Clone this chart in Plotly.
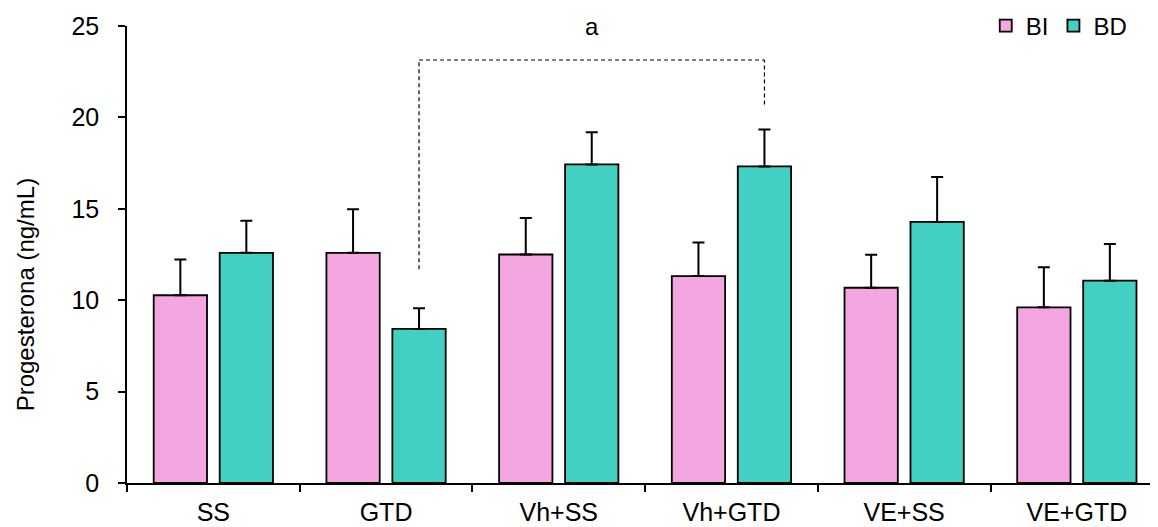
import plotly.graph_objects as go

categories = ["SS", "GTD", "Vh+SS", "Vh+GTD", "VE+SS", "VE+GTD"]
bi_mean = [10.27, 12.59, 12.50, 11.32, 10.68, 9.61]
bi_err_top = [12.23, 14.98, 14.50, 13.16, 12.48, 11.80]
bd_mean = [12.59, 8.43, 17.43, 17.32, 14.28, 11.07]
bd_err_top = [14.34, 9.56, 19.19, 19.34, 16.74, 13.07]
y_ticks = [0, 5, 10, 15, 20, 25]

# significance bracket: from GTD (BD) to Vh+GTD (BD)
bracket_from, bracket_to = 1, 3
bracket_y_top = 23.14
bracket_left_bottom = 11.69
bracket_right_bottom = 20.7
sig_label = "a"
y_title = "Progesterona (ng/mL)"

PINK = "#F4A6E0"
TEAL = "#42D0C2"
FONT = "Liberation Sans, Arial, sans-serif"
FS_TICK = 25
FS_TEXT = 24

bargap = 0.236
offset = (1 - bargap) / 4

fig = go.Figure()
fig.add_trace(go.Bar(
    name="BI", x=categories, y=bi_mean,
    marker=dict(color=PINK, line=dict(color="black", width=1.8)),
    error_y=dict(type="data", symmetric=False,
                 array=[e - m for e, m in zip(bi_err_top, bi_mean)],
                 arrayminus=[0] * len(bi_mean),
                 color="black", thickness=2, width=6),
))
fig.add_trace(go.Bar(
    name="BD", x=categories, y=bd_mean,
    marker=dict(color=TEAL, line=dict(color="black", width=1.8)),
    error_y=dict(type="data", symmetric=False,
                 array=[e - m for e, m in zip(bd_err_top, bd_mean)],
                 arrayminus=[0] * len(bd_mean),
                 color="black", thickness=2, width=6),
))

xl = bracket_from + offset
xr = bracket_to + offset
dash_line = dict(color="black", width=1.2, dash="4px,3px")
fig.add_shape(type="line", xref="x", yref="y", x0=xl, x1=xl, y0=bracket_left_bottom, y1=bracket_y_top, line=dash_line)
fig.add_shape(type="line", xref="x", yref="y", x0=xl, x1=xr, y0=bracket_y_top, y1=bracket_y_top, line=dash_line)
fig.add_shape(type="line", xref="x", yref="y", x0=xr, x1=xr, y0=bracket_right_bottom, y1=bracket_y_top, line=dash_line)
fig.add_annotation(x=(xl + xr) / 2, y=25, xref="x", yref="y", text=sig_label,
                   showarrow=False, font=dict(family=FONT, size=FS_TEXT, color="black"),
                   yanchor="middle")

# y-axis title (placed slightly below the plot centre, as in the reference)
fig.add_annotation(x=-0.099, y=0.4127, xref="paper", yref="paper", text=y_title,
                   textangle=-90, showarrow=False, xanchor="center", yanchor="middle",
                   font=dict(family=FONT, size=FS_TEXT, color="black"))

# page has an 8px body margin; figure placed at (8, 8)
W, H = 1158, 527
ml, mr, mt, mb = 119, 8, 17.5, 51.5
plot_w = W - ml - mr
px_per_cat = 172.7
x_end = -0.5 + plot_w / px_per_cat

fig.update_layout(
    width=W, height=H,
    margin=dict(l=ml, r=mr, t=mt, b=mb, pad=0, autoexpand=False),
    barmode="group", bargap=bargap, bargroupgap=0.192,
    plot_bgcolor="white", paper_bgcolor="white",
    font=dict(family=FONT, size=FS_TEXT, color="black"),
    legend=dict(orientation="h", x=0.9755, xanchor="right", y=1.0, yanchor="middle",
                font=dict(family=FONT, size=FS_TEXT), bgcolor="rgba(0,0,0,0)",
                itemwidth=30, traceorder="normal"),
    xaxis=dict(type="category", range=[-0.5, x_end], showline=True, linecolor="black",
               linewidth=1.5, ticks="outside", tickson="boundaries", ticklen=7,
               tickwidth=1.5, tickcolor="black", showgrid=False, zeroline=False,
               ticklabelstandoff=6, automargin=False,
               tickfont=dict(family=FONT, size=FS_TICK)),
    yaxis=dict(range=[0, 25], tickvals=y_ticks, showline=True, linecolor="black",
               linewidth=1.5, ticks="outside", ticklen=7, tickwidth=1.5,
               tickcolor="black", showgrid=False, zeroline=False,
               ticklabelstandoff=14, automargin=False,
               tickfont=dict(family=FONT, size=FS_TICK)),
)

fig.write_html("out.html")
